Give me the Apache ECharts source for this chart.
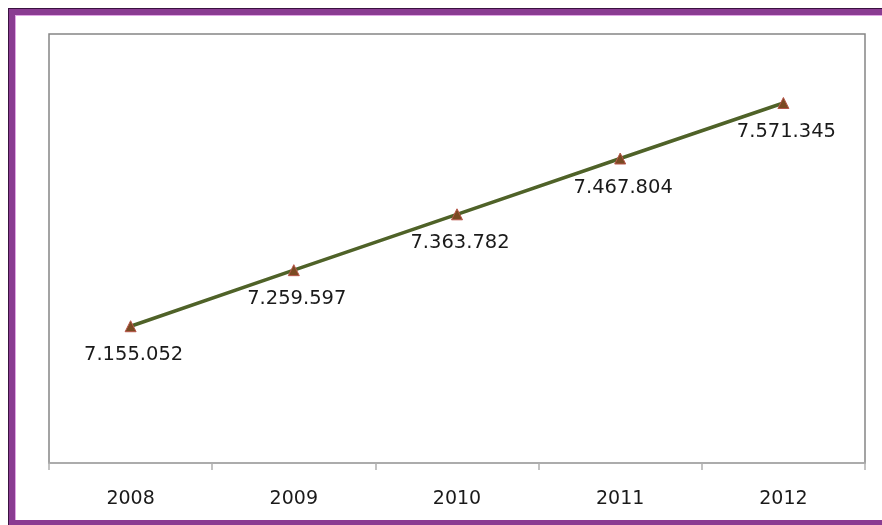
<!DOCTYPE html>
<html>
<head>
<meta charset="utf-8">
<script src="https://cdn.jsdelivr.net/npm/echarts@6/dist/echarts.min.js"></script>
<style>
  html, body { margin: 0; padding: 0; background: #fff; width: 882px; height: 525px; overflow: hidden; }
  #frameOuter { position: absolute; left: 8px; top: 8px; width: 900px; height: 540px; border-top: 1px solid #3a1240; border-left: 1px solid #3a1240; box-sizing: border-box; }
  #frame { position: absolute; left: 9px; top: 9px; width: 900px; height: 516px; box-sizing: border-box;
           border-left: 6px solid #8a3c92; border-top: 6px solid #8a3c92; border-bottom: 5px solid #8a3c92;
           box-shadow: inset 1px 1px 0 0 #e2a6e6; }
  #chart { position: absolute; left: 0; top: 0; width: 882px; height: 525px; }
</style>
</head>
<body>
<div id="frameOuter"></div>
<div id="frame"></div>
<div id="chart"></div>
<script>
const years = ['2008', '2009', '2010', '2011', '2012'];
const population = [7155052, 7259597, 7363782, 7467804, 7571345];

function fmt(v) {
  return String(v).replace(/\B(?=(\d{3})+(?!\d))/g, '.');
}

const chart = echarts.init(document.getElementById('chart'), null, { renderer: 'canvas' });
chart.setOption({
  backgroundColor: 'transparent',
  animation: false,
  grid: {
    left: 49, top: 34, right: 17, bottom: 62,
    show: true, borderColor: '#858585', borderWidth: 1.5, backgroundColor: 'transparent'
  },
  xAxis: {
    type: 'category',
    data: years,
    boundaryGap: true,
    axisLine: { show: true, lineStyle: { color: '#b0b0b0', width: 1.5 } },
    axisTick: { show: true, length: 7, lineStyle: { color: '#b0b0b0', width: 1.5 } },
    axisLabel: { color: '#1a1a1a', fontSize: 19, fontFamily: 'DejaVu Sans', margin: 27 }
  },
  yAxis: {
    type: 'value',
    min: 6900000,
    max: 7700000,
    show: false,
    splitLine: { show: false }
  },
  series: [{
    type: 'line',
    data: population,
    lineStyle: { color: '#4f6228', width: 3.5 },
    symbol: 'triangle',
    symbolSize: 11,
    itemStyle: { color: '#7a4a22', borderColor: '#b8564a', borderWidth: 1 },
    label: {
      show: true,
      position: 'bottom',
      distance: 13,
      color: '#1a1a1a',
      fontSize: 19.5,
      fontFamily: 'DejaVu Sans',
      offset: [3, 0],
      formatter: p => fmt(p.value)
    }
  }]
});
</script>
</body>
</html>
